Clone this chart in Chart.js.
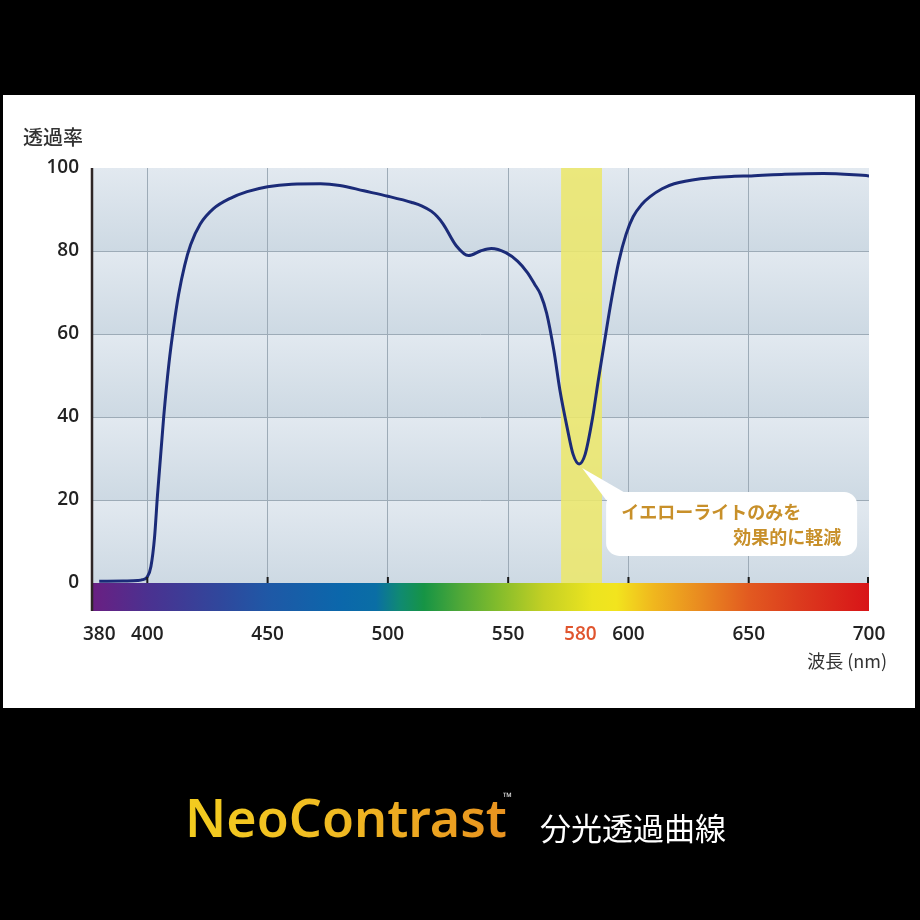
<!DOCTYPE html>
<html>
<head>
<meta charset="utf-8">
<script src="https://cdn.jsdelivr.net/npm/chart.js@4.4.1/dist/chart.umd.min.js"></script>
<style>
    html, body { margin: 0; padding: 0; background: #000; }
    #wrap { position: relative; width: 920px; height: 920px; overflow: hidden; }
    #chart { position: absolute; left: 0; top: 0; }
    #brand {
        position: absolute; left: 185px; top: 791px;
        font: 600 52px/52px "Noto Sans", sans-serif; letter-spacing: 0;
        background: linear-gradient(90deg, #f3cc1f 0%, #f0bb22 45%, #e8921f 100%);
        -webkit-background-clip: text; background-clip: text; color: transparent;
        white-space: nowrap;
    }
    #tm { position: absolute; left: 503px; top: 791px; font: 12px/12px "Noto Sans", sans-serif; color: #d8d8d8; }
    #sub { position: absolute; left: 540px; top: 811px; font: 31px/31px "Noto Sans CJK JP", sans-serif; color: #fff; white-space: nowrap; }
</style>
</head>
<body>
<div id="wrap">
    <canvas id="chart" width="920" height="920"></canvas>
    <div id="brand">NeoContrast</div>
    <div id="tm">™</div>
    <div id="sub">分光透過曲線</div>
</div>
<script>
    // wavelength (nm) and transmittance (%)
    var wavelengths = [380, 390, 396, 398, 400, 401.5, 403, 404.2, 406.8, 409,
        411, 413, 415.5, 418, 422, 427.5, 434.5, 441.5, 450, 460,
        472, 480, 490, 500, 510, 514, 518, 520.5, 523, 528.5,
        533.5, 538.5, 543, 549, 554, 558, 561, 563.5, 566, 569,
        571.5, 574.5, 577, 579.5, 582, 585, 587.5, 590, 593, 596,
        599, 602, 605.5, 609, 614, 619, 630, 644, 651, 665,
        681, 700];
    var transmittance = [0.4, 0.5, 0.6, 0.8, 1.5, 4, 11, 21, 40, 53,
        62, 69.5, 76.5, 81.5, 86.5, 90.2, 92.7, 94.3, 95.5, 96.1,
        96.2, 95.8, 94.5, 93.2, 91.7, 90.9, 89.6, 88.3, 86.5, 81.2,
        78.9, 80, 80.6, 79.6, 77.5, 74.8, 72, 69.5, 65, 56,
        46.5, 37.5, 31, 28.7, 31, 39.5, 49, 58, 68.5, 77.5,
        84, 88.3, 91.2, 93.1, 95, 96.2, 97.4, 98, 98.1, 98.5,
        98.7, 98.1];

    var xTicks = [380, 400, 450, 500, 550, 580, 600, 650, 700];
    var xGridLines = [400, 450, 500, 550, 600, 650];
    var xTickMarks = [400, 450, 500, 550, 600, 650, 700];
    var yTicks = [0, 20, 40, 60, 80, 100];
    var yellowBand = [572, 589];
    var highlightTick = 580;

    // visible spectrum strip under the plot
    var spectrumStops = [
        [377, '#6a1f82'], [400, '#4b3190'], [430, '#30479c'], [450, '#1f58a6'],
        [480, '#0b67ab'], [495, '#0a6ea5'], [505, '#108a72'], [515, '#169445'],
        [530, '#4fa838'], [545, '#80bb2c'], [565, '#c4d024'], [585, '#ece420'],
        [595, '#f2e41e'], [610, '#f0b81e'], [630, '#e98a20'], [650, '#e25a20'],
        [670, '#dc3c1e'], [700, '#d81418']
    ];

    var calloutLines = ['イエローライトのみを', '効果的に軽減'];

    var points = [];
    for (var i = 0; i < wavelengths.length; i++) {
        points.push({x: wavelengths[i], y: transmittance[i]});
    }

    // lowest point of the yellow-light dip
    function dipIndex() {
        var m = -1;
        for (var i = 0; i < wavelengths.length; i++) {
            if (wavelengths[i] < yellowBand[0] || wavelengths[i] > yellowBand[1]) continue;
            if (m < 0 || transmittance[i] < transmittance[m]) m = i;
        }
        return m;
    }

    function roundRect(ctx, x, y, w, h, r) {
        ctx.beginPath();
        ctx.moveTo(x + r, y);
        ctx.arcTo(x + w, y, x + w, y + h, r);
        ctx.arcTo(x + w, y + h, x, y + h, r);
        ctx.arcTo(x, y + h, x, y, r);
        ctx.arcTo(x, y, x + w, y, r);
        ctx.closePath();
    }

    var decorPlugin = {
        id: 'decor',
        beforeDraw: function (chart) {
            var ctx = chart.ctx, area = chart.chartArea;
            var yScale = chart.scales.y;
            ctx.save();
            ctx.fillStyle = '#000';
            ctx.fillRect(0, 0, chart.width, chart.height);
            ctx.fillStyle = '#fff';
            ctx.fillRect(3, 95, 912, 613);
            // plot background, one soft gradient per 20% band
            for (var i = 0; i < yTicks.length - 1; i++) {
                var top = yScale.getPixelForValue(yTicks[i + 1]);
                var bottom = yScale.getPixelForValue(yTicks[i]);
                var g = ctx.createLinearGradient(0, top, 0, bottom);
                g.addColorStop(0, '#e2e9f0');
                g.addColorStop(1, '#cdd9e3');
                ctx.fillStyle = g;
                ctx.fillRect(area.left, top, area.right - area.left, bottom - top);
            }
            ctx.fillStyle = '#333';
            ctx.font = '500 20px "Noto Sans CJK JP", sans-serif';
            ctx.textBaseline = 'middle';
            ctx.textAlign = 'left';
            ctx.fillText('透過率', 23, 137);
            ctx.font = '18px "Noto Sans CJK JP", sans-serif';
            ctx.textAlign = 'right';
            ctx.fillText('波長 (nm)', 887, 661);
            ctx.restore();
        },
        beforeDatasetsDraw: function (chart) {
            var ctx = chart.ctx, area = chart.chartArea;
            var xScale = chart.scales.x;
            var x1 = xScale.getPixelForValue(yellowBand[0]);
            var x2 = xScale.getPixelForValue(yellowBand[1]);
            ctx.save();
            ctx.fillStyle = 'rgba(236, 231, 108, 0.88)';
            ctx.fillRect(x1, area.top, x2 - x1, area.bottom - area.top);
            ctx.restore();
        },
        afterDraw: function (chart) {
            var ctx = chart.ctx, area = chart.chartArea;
            var xScale = chart.scales.x, yScale = chart.scales.y;
            var barTop = area.bottom, barBottom = area.bottom + 28;
            ctx.save();
            // spectrum strip
            var g = ctx.createLinearGradient(area.left, 0, area.right, 0);
            var w = area.right - area.left;
            spectrumStops.forEach(function (s) {
                var off = (xScale.getPixelForValue(s[0]) - area.left) / w;
                g.addColorStop(Math.min(1, Math.max(0, off)), s[1]);
            });
            ctx.fillStyle = g;
            ctx.fillRect(area.left, barTop, w, barBottom - barTop);
            // small tick marks sitting on the strip
            ctx.strokeStyle = '#1a1a1a';
            ctx.lineWidth = 2;
            xTickMarks.forEach(function (v) {
                var x = Math.min(xScale.getPixelForValue(v), area.right - 1);
                ctx.beginPath();
                ctx.moveTo(x, barTop - 6);
                ctx.lineTo(x, barTop);
                ctx.stroke();
            });
            // left axis line
            ctx.strokeStyle = '#2e2626';
            ctx.lineWidth = 2.5;
            ctx.beginPath();
            ctx.moveTo(area.left, area.top);
            ctx.lineTo(area.left, barBottom);
            ctx.stroke();

            // callout pointing at the dip
            var mi = dipIndex();
            var px = xScale.getPixelForValue(wavelengths[mi]);
            var py = yScale.getPixelForValue(transmittance[mi]);
            ctx.fillStyle = '#fff';
            ctx.beginPath();
            ctx.moveTo(px + 3, py + 4);
            ctx.lineTo(px + 48, py + 30);
            ctx.lineTo(px + 27, py + 36);
            ctx.closePath();
            ctx.fill();
            roundRect(ctx, px + 27, py + 28, 251, 64, 13);
            ctx.fill();
            ctx.fillStyle = '#c8902a';
            ctx.font = 'bold 18px "Noto Sans CJK JP", sans-serif';
            ctx.textBaseline = 'middle';
            ctx.textAlign = 'left';
            ctx.fillText(calloutLines[0], px + 42, py + 48);
            ctx.textAlign = 'right';
            ctx.fillText(calloutLines[1], px + 262, py + 73);
            ctx.restore();
        }
    };

    var ctx = document.getElementById('chart').getContext('2d');
    new Chart(ctx, {
        type: 'line',
        data: {
            datasets: [{
                data: points,
                borderColor: '#1b2b78',
                borderWidth: 3,
                pointRadius: 0,
                fill: false,
                cubicInterpolationMode: 'monotone'
            }]
        },
        options: {
            responsive: false,
            animation: false,
            events: [],
            layout: {padding: {left: 0, top: 168, right: 51, bottom: 0}},
            plugins: {legend: {display: false}, tooltip: {enabled: false}},
            scales: {
                x: {
                    type: 'linear',
                    min: 377,
                    max: 700,
                    afterBuildTicks: function (scale) {
                        scale.ticks = xTicks.map(function (v) { return {value: v}; });
                    },
                    afterFit: function (scale) {
                        scale.height = 337;
                        scale.paddingLeft = 0;
                        scale.paddingRight = 0;
                    },
                    border: {display: false},
                    grid: {
                        drawTicks: false,
                        lineWidth: 1,
                        color: function (c) {
                            return xGridLines.indexOf(c.tick && c.tick.value) >= 0 ? '#9dabb7' : 'rgba(0,0,0,0)';
                        }
                    },
                    ticks: {
                        autoSkip: false,
                        maxRotation: 0,
                        padding: 40,
                        font: {family: '"Open Sans", sans-serif', size: 19, weight: 600},
                        color: function (c) {
                            return c.tick.value === highlightTick ? '#e0552e' : '#222';
                        },
                        callback: function (v) { return String(v); }
                    }
                },
                y: {
                    min: 0,
                    max: 100,
                    afterBuildTicks: function (scale) {
                        scale.ticks = yTicks.map(function (v) { return {value: v}; });
                    },
                    afterFit: function (scale) {
                        scale.width = 92;
                        scale.paddingTop = 0;
                        scale.paddingBottom = 0;
                    },
                    border: {display: false},
                    grid: {
                        drawTicks: false,
                        lineWidth: 1,
                        color: function (c) {
                            var v = c.tick && c.tick.value;
                            return (v > 0 && v < 100) ? '#9dabb7' : 'rgba(0,0,0,0)';
                        }
                    },
                    ticks: {
                        padding: 13,
                        font: {family: '"Open Sans", sans-serif', size: 19, weight: 600},
                        color: '#222'
                    }
                }
            }
        },
        plugins: [decorPlugin]
    });
</script>
</body>
</html>
